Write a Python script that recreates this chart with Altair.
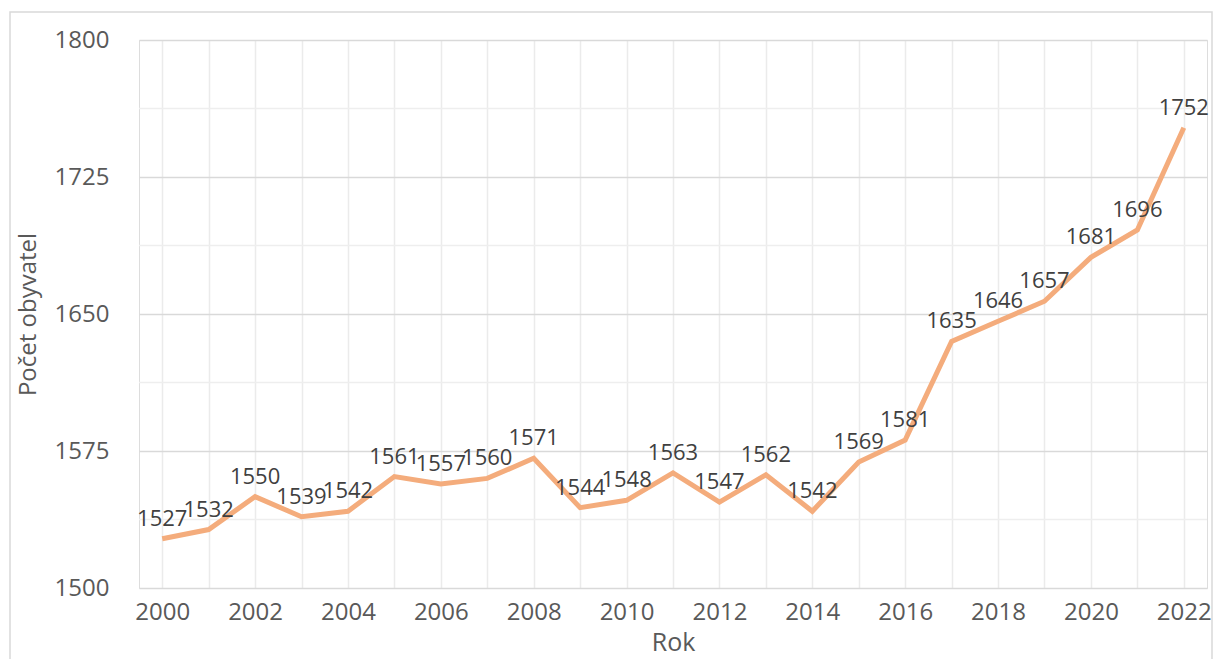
import altair as alt
import pandas as pd

years = list(range(2000, 2023))
population = [1527, 1532, 1550, 1539, 1542, 1561, 1557, 1560, 1571, 1544, 1548,
              1563, 1547, 1562, 1542, 1569, 1581, 1635, 1646, 1657, 1681, 1696, 1752]
y_major_ticks = [1500, 1575, 1650, 1725, 1800]
y_minor_ticks = [1537.5, 1612.5, 1687.5, 1762.5]

df = pd.DataFrame({"Rok": years, "Pocet": population})
minor_df = pd.DataFrame({"v": y_minor_ticks})

FONT = "Open Sans"
TXT = "#595959"
W, H = 1068, 548

x_scale = alt.Scale(domain=[1999.5, 2022.5], nice=False, zero=False)
y_scale = alt.Scale(domain=[1500, 1800], nice=False, zero=False)

x_enc = alt.X("Rok:Q", scale=x_scale, title="Rok",
              axis=alt.Axis(values=years, format="d",
                            labelExpr="datum.value % 2 == 0 ? datum.label : ''",
                            grid=True, gridColor="#ebebeb", gridWidth=1.5,
                            domain=False, ticks=False, labelPadding=12,
                            labelFontSize=24, labelColor=TXT, labelFont=FONT,
                            titleFontSize=25, titleColor=TXT, titleFont=FONT,
                            titleFontWeight="normal", titlePadding=6))
y_enc = alt.Y("Pocet:Q", scale=y_scale, title="Počet obyvatel",
              axis=alt.Axis(values=y_major_ticks, format="d",
                            grid=True, gridColor="#d9d9d9", gridWidth=1.5,
                            domain=False, ticks=False, labelPadding=30,
                            labelFontSize=24, labelColor=TXT, labelFont=FONT,
                            titleFontSize=24, titleColor=TXT, titleFont=FONT,
                            titleFontWeight="normal", titlePadding=14))

frame = alt.Chart(pd.DataFrame({"a": [0]})).mark_rect(
    fillOpacity=0, stroke="#d9d9d9", strokeWidth=1.5
).encode(x=alt.value(-129), x2=alt.value(W + 5), y=alt.value(-28), y2=alt.value(700))

minor = alt.Chart(minor_df).mark_rule(color="#eeeeee", strokeWidth=1.5).encode(
    y=alt.Y("v:Q", scale=y_scale)
)

line = alt.Chart(df).mark_line(color="#F4AC7C", strokeWidth=5).encode(x=x_enc, y=y_enc)

labels = alt.Chart(df).mark_text(dy=-20, fontSize=22, font=FONT, color="#404040").encode(
    x=alt.X("Rok:Q", scale=x_scale),
    y=alt.Y("Pocet:Q", scale=y_scale),
    text=alt.Text("Pocet:Q", format="d"),
)

chart = alt.layer(minor, line, labels, frame).properties(
    width=W, height=H,
    autosize=alt.AutoSizeParams(type="none"),
    padding={"left": 131, "top": 32, "right": 6, "bottom": 71},
).configure_view(stroke=None).configure(background="white")

chart.save("out.html", embed_options={"renderer": "svg", "actions": False})
